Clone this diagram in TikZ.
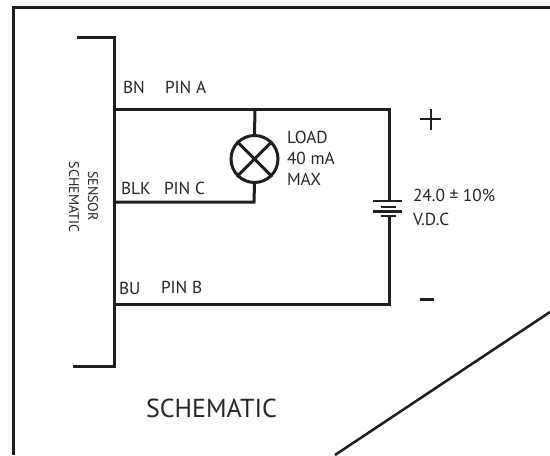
\documentclass[tikz,border=0pt]{standalone}
\usepackage{fontspec}
\setmainfont{PT Sans}
\begin{document}
\begin{tikzpicture}[x=0.75pt,y=-0.75pt,
  wire/.style={line width=2.25pt,draw=black!88,line cap=butt,line join=miter},
  plate/.style={line width=2.1pt,draw=black!88},
  lbl/.style={anchor=base west,inner sep=0pt,outer sep=0pt,text=black!85,font=\fontsize{13}{15}\selectfont},
  lblv/.style={anchor=base,inner sep=0pt,outer sep=0pt,text=black!85,rotate=-90,font=\fontsize{10.5}{12}\selectfont},
  lamp/.style={circle,draw=black!88,line width=2.25pt,minimum size=47pt*0.75,inner sep=0pt}]
\useasboundingbox (0,0) rectangle (550,455);
\coordinate (fbl) at (13,455);
\coordinate (ftl) at (13,7);
\coordinate (ftr) at (550,7);
\draw[wire] (fbl) -- (ftl) -- (ftr);
\coordinate (d1) at (550,312);
\coordinate (d2) at (335,455);
\draw[wire,line width=1.9pt] (d1) -- (d2);
% sensor bracket
\coordinate (bt) at (77,37);
\coordinate (bc1) at (114,37);
\coordinate (bc2) at (114,366);
\coordinate (bb) at (73,366);
\draw[wire] (bt) -- (bc1) -- (bc2) -- (bb);
% wires
\coordinate (a) at (114,109);
\coordinate (c) at (114,202);
\coordinate (b) at (114,304);
\coordinate (tr) at (389,109);
\coordinate (br) at (389,304);
\coordinate (lt) at (255,109);
\coordinate (lb) at (254,202);
\node[lamp] (L) at (254.5,159) {};
\draw[wire] (L.north west) -- (L.south east);
\draw[wire] (L.north east) -- (L.south west);
\coordinate (p1) at (389,201);
\coordinate (p4) at (389,216);
\draw[wire] (a) -- (tr) -- (p1);
\draw[wire] (p4) -- (br) -- (b);
\draw[wire] (lt) -- (L.north);
\draw[wire] (L.south) -- (lb) -- (c);
% battery
\coordinate (b1l) at (373,201); \coordinate (b1r) at (402,201);
\coordinate (b2l) at (381,207); \coordinate (b2r) at (396,207);
\coordinate (b3l) at (373,211.5); \coordinate (b3r) at (402,211.5);
\coordinate (b4l) at (381,216); \coordinate (b4r) at (396,216);
\draw[plate] (b1l) -- (b1r);
\draw[plate] (b2l) -- (b2r);
\draw[plate] (b3l) -- (b3r);
\draw[plate] (b4l) -- (b4r);
% plus, minus
\coordinate (pl) at (420,119); \coordinate (pr) at (441,119);
\coordinate (pt) at (430.5,109); \coordinate (pb) at (430.5,130);
\draw[line width=1.5pt,draw=black!88] (pl) -- (pr) (pt) -- (pb);
\coordinate (ml) at (420,299); \coordinate (mr) at (434,299);
\draw[wire] (ml) -- (mr);
% labels
\node[lbl] (t1) at (123,93) {BN};
\node[lbl] (t2) at (165,93) {PIN A};
\node[lbl] (t3) at (121,194) {BLK};
\node[lbl] (t4) at (164,194) {PIN C};
\node[lbl] (t5) at (119,294) {BU};
\node[lbl] (t6) at (161,293) {PIN B};
\node[lbl] (t7) at (287,143) {LOAD};
\node[lbl] (t8) at (287,164) {40 mA};
\node[lbl] (t9) at (287,185) {MAX};
\node[lbl] (t10) at (413,201) {24.0\hspace{3.4pt}±\hspace{3.4pt}10\%};
\node[lbl] (t11) at (413,225) {V.D.C};
\node[lbl,font=\fontsize{19.5}{22}\selectfont] (t12) at (146,417) {SCHEMATIC};
\node[lblv] (t13) at (88,196) {SENSOR};
\node[lblv] (t14) at (69,197) {SCHEMATIC};
\end{tikzpicture}
\end{document}
